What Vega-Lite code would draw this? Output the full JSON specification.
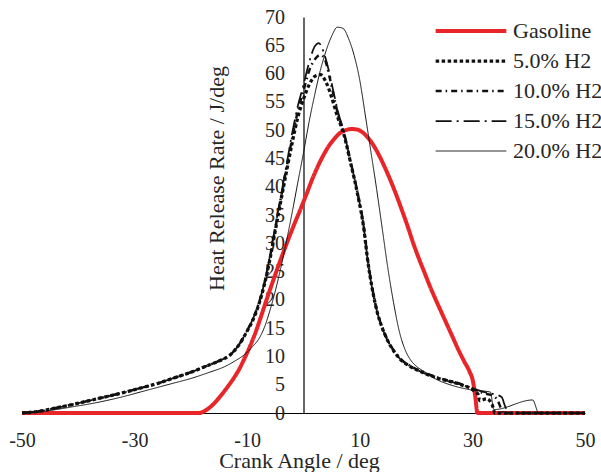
{
  "$schema": "https://vega.github.io/schema/vega-lite/v6.json",
  "width": 563,
  "height": 396,
  "autosize": {"type": "none"},
  "padding": {"left": 22, "top": 17, "right": 16, "bottom": 59},
  "background": "white",
  "config": {
    "view": {"stroke": null},
    "font": "Liberation Serif",
    "axis": {
      "grid": false,
      "ticks": false,
      "tickSize": 0,
      "labelFont": "Liberation Serif",
      "labelFontSize": 20,
      "labelColor": "#262626",
      "labelExpr": "'' + datum.value",
      "titleFont": "Liberation Serif",
      "titleFontSize": 22,
      "titleFontWeight": "normal",
      "titleColor": "#262626",
      "domainColor": "#000000",
      "domainWidth": 1.2
    }
  },
  "data": {
    "values": [
      {"fuel": "Gasoline", "ca": -50, "hrr": 0},
      {"fuel": "Gasoline", "ca": -18.5, "hrr": 0},
      {"fuel": "Gasoline", "ca": -17.5, "hrr": 0.4},
      {"fuel": "Gasoline", "ca": -16.5, "hrr": 1.1},
      {"fuel": "Gasoline", "ca": -15.5, "hrr": 2.1},
      {"fuel": "Gasoline", "ca": -14.5, "hrr": 3.3},
      {"fuel": "Gasoline", "ca": -13.5, "hrr": 4.6},
      {"fuel": "Gasoline", "ca": -12.5, "hrr": 6},
      {"fuel": "Gasoline", "ca": -11.5, "hrr": 7.6},
      {"fuel": "Gasoline", "ca": -10.5, "hrr": 9.6},
      {"fuel": "Gasoline", "ca": -9.5, "hrr": 11.8},
      {"fuel": "Gasoline", "ca": -8.5, "hrr": 14.3},
      {"fuel": "Gasoline", "ca": -7.5, "hrr": 17.2},
      {"fuel": "Gasoline", "ca": -6.5, "hrr": 20.2},
      {"fuel": "Gasoline", "ca": -5.5, "hrr": 23.1},
      {"fuel": "Gasoline", "ca": -4.5, "hrr": 25.9},
      {"fuel": "Gasoline", "ca": -3.5, "hrr": 28.6},
      {"fuel": "Gasoline", "ca": -2.5, "hrr": 31.2},
      {"fuel": "Gasoline", "ca": -1.5, "hrr": 33.7},
      {"fuel": "Gasoline", "ca": -0.5, "hrr": 36.1},
      {"fuel": "Gasoline", "ca": 0.5, "hrr": 38.6},
      {"fuel": "Gasoline", "ca": 1.5, "hrr": 41.2},
      {"fuel": "Gasoline", "ca": 2.5, "hrr": 43.5},
      {"fuel": "Gasoline", "ca": 3.5, "hrr": 45.5},
      {"fuel": "Gasoline", "ca": 4.5, "hrr": 47.2},
      {"fuel": "Gasoline", "ca": 5.5, "hrr": 48.5},
      {"fuel": "Gasoline", "ca": 6.5, "hrr": 49.5},
      {"fuel": "Gasoline", "ca": 7.5, "hrr": 50},
      {"fuel": "Gasoline", "ca": 8.5, "hrr": 50.2},
      {"fuel": "Gasoline", "ca": 9.5, "hrr": 50.1},
      {"fuel": "Gasoline", "ca": 10.5, "hrr": 49.6},
      {"fuel": "Gasoline", "ca": 11.5, "hrr": 48.6},
      {"fuel": "Gasoline", "ca": 12.5, "hrr": 47.2},
      {"fuel": "Gasoline", "ca": 13.5, "hrr": 45.4},
      {"fuel": "Gasoline", "ca": 14.5, "hrr": 43.3},
      {"fuel": "Gasoline", "ca": 15.5, "hrr": 41},
      {"fuel": "Gasoline", "ca": 16.5, "hrr": 38.5},
      {"fuel": "Gasoline", "ca": 17.5, "hrr": 35.8},
      {"fuel": "Gasoline", "ca": 18.5, "hrr": 33},
      {"fuel": "Gasoline", "ca": 19.5, "hrr": 30},
      {"fuel": "Gasoline", "ca": 20.5, "hrr": 27.3},
      {"fuel": "Gasoline", "ca": 21.5, "hrr": 24.8},
      {"fuel": "Gasoline", "ca": 22.5, "hrr": 22.3},
      {"fuel": "Gasoline", "ca": 23.5, "hrr": 20},
      {"fuel": "Gasoline", "ca": 24.5, "hrr": 17.8},
      {"fuel": "Gasoline", "ca": 25.5, "hrr": 15.6},
      {"fuel": "Gasoline", "ca": 26.5, "hrr": 13.4},
      {"fuel": "Gasoline", "ca": 27.5, "hrr": 11.2},
      {"fuel": "Gasoline", "ca": 28.5, "hrr": 9.2},
      {"fuel": "Gasoline", "ca": 29.5, "hrr": 7.3},
      {"fuel": "Gasoline", "ca": 30.1, "hrr": 5.6},
      {"fuel": "Gasoline", "ca": 30.5, "hrr": 3},
      {"fuel": "Gasoline", "ca": 30.9, "hrr": 0},
      {"fuel": "Gasoline", "ca": 50, "hrr": 0},

      {"fuel": "5.0% H2", "ca": -50, "hrr": 0},
      {"fuel": "5.0% H2", "ca": -47, "hrr": 0.3},
      {"fuel": "5.0% H2", "ca": -44, "hrr": 0.9},
      {"fuel": "5.0% H2", "ca": -41, "hrr": 1.5},
      {"fuel": "5.0% H2", "ca": -38, "hrr": 2.2},
      {"fuel": "5.0% H2", "ca": -35, "hrr": 2.9},
      {"fuel": "5.0% H2", "ca": -32, "hrr": 3.6},
      {"fuel": "5.0% H2", "ca": -29, "hrr": 4.4},
      {"fuel": "5.0% H2", "ca": -26, "hrr": 5.2},
      {"fuel": "5.0% H2", "ca": -23, "hrr": 6.2},
      {"fuel": "5.0% H2", "ca": -20, "hrr": 7.2},
      {"fuel": "5.0% H2", "ca": -17, "hrr": 8.4},
      {"fuel": "5.0% H2", "ca": -15, "hrr": 9.2},
      {"fuel": "5.0% H2", "ca": -13, "hrr": 10.3},
      {"fuel": "5.0% H2", "ca": -11.5, "hrr": 12},
      {"fuel": "5.0% H2", "ca": -10, "hrr": 14.5},
      {"fuel": "5.0% H2", "ca": -9, "hrr": 16.4},
      {"fuel": "5.0% H2", "ca": -8, "hrr": 19},
      {"fuel": "5.0% H2", "ca": -7, "hrr": 22.5},
      {"fuel": "5.0% H2", "ca": -6, "hrr": 27},
      {"fuel": "5.0% H2", "ca": -5, "hrr": 32.3},
      {"fuel": "5.0% H2", "ca": -4, "hrr": 37.6},
      {"fuel": "5.0% H2", "ca": -3, "hrr": 42.8},
      {"fuel": "5.0% H2", "ca": -2, "hrr": 47.8},
      {"fuel": "5.0% H2", "ca": -1, "hrr": 52.3},
      {"fuel": "5.0% H2", "ca": 0, "hrr": 55.5},
      {"fuel": "5.0% H2", "ca": 1, "hrr": 58},
      {"fuel": "5.0% H2", "ca": 2, "hrr": 59.5},
      {"fuel": "5.0% H2", "ca": 3, "hrr": 59.8},
      {"fuel": "5.0% H2", "ca": 4, "hrr": 58.5},
      {"fuel": "5.0% H2", "ca": 5, "hrr": 55.8},
      {"fuel": "5.0% H2", "ca": 6, "hrr": 52.5},
      {"fuel": "5.0% H2", "ca": 7.1, "hrr": 49.5},
      {"fuel": "5.0% H2", "ca": 8.3, "hrr": 44.5},
      {"fuel": "5.0% H2", "ca": 9.6, "hrr": 38.7},
      {"fuel": "5.0% H2", "ca": 10.7, "hrr": 32.7},
      {"fuel": "5.0% H2", "ca": 11.4, "hrr": 27},
      {"fuel": "5.0% H2", "ca": 12.2, "hrr": 22},
      {"fuel": "5.0% H2", "ca": 13.1, "hrr": 17.8},
      {"fuel": "5.0% H2", "ca": 14, "hrr": 15},
      {"fuel": "5.0% H2", "ca": 14.9, "hrr": 12.9},
      {"fuel": "5.0% H2", "ca": 16, "hrr": 11},
      {"fuel": "5.0% H2", "ca": 17.2, "hrr": 9.5},
      {"fuel": "5.0% H2", "ca": 19, "hrr": 8.2},
      {"fuel": "5.0% H2", "ca": 21.3, "hrr": 7.1},
      {"fuel": "5.0% H2", "ca": 24, "hrr": 6.1},
      {"fuel": "5.0% H2", "ca": 27.4, "hrr": 5.2},
      {"fuel": "5.0% H2", "ca": 30.2, "hrr": 4},
      {"fuel": "5.0% H2", "ca": 31, "hrr": 3.3},
      {"fuel": "5.0% H2", "ca": 31.3, "hrr": 2.2},
      {"fuel": "5.0% H2", "ca": 32.5, "hrr": 2.5},
      {"fuel": "5.0% H2", "ca": 33.5, "hrr": 1.5},
      {"fuel": "5.0% H2", "ca": 34, "hrr": 0},
      {"fuel": "5.0% H2", "ca": 50, "hrr": 0},

      {"fuel": "10.0% H2", "ca": -50, "hrr": 0},
      {"fuel": "10.0% H2", "ca": -47, "hrr": 0.3},
      {"fuel": "10.0% H2", "ca": -44, "hrr": 0.9},
      {"fuel": "10.0% H2", "ca": -41, "hrr": 1.5},
      {"fuel": "10.0% H2", "ca": -38, "hrr": 2.2},
      {"fuel": "10.0% H2", "ca": -35, "hrr": 2.9},
      {"fuel": "10.0% H2", "ca": -32, "hrr": 3.6},
      {"fuel": "10.0% H2", "ca": -29, "hrr": 4.4},
      {"fuel": "10.0% H2", "ca": -26, "hrr": 5.2},
      {"fuel": "10.0% H2", "ca": -23, "hrr": 6.2},
      {"fuel": "10.0% H2", "ca": -20, "hrr": 7.2},
      {"fuel": "10.0% H2", "ca": -17, "hrr": 8.4},
      {"fuel": "10.0% H2", "ca": -15, "hrr": 9.2},
      {"fuel": "10.0% H2", "ca": -13, "hrr": 10.3},
      {"fuel": "10.0% H2", "ca": -11.5, "hrr": 12},
      {"fuel": "10.0% H2", "ca": -10, "hrr": 14.6},
      {"fuel": "10.0% H2", "ca": -9, "hrr": 16.6},
      {"fuel": "10.0% H2", "ca": -8, "hrr": 19.2},
      {"fuel": "10.0% H2", "ca": -7, "hrr": 22.7},
      {"fuel": "10.0% H2", "ca": -6, "hrr": 27.3},
      {"fuel": "10.0% H2", "ca": -5, "hrr": 32.7},
      {"fuel": "10.0% H2", "ca": -4, "hrr": 38.1},
      {"fuel": "10.0% H2", "ca": -3, "hrr": 43.4},
      {"fuel": "10.0% H2", "ca": -2, "hrr": 48.6},
      {"fuel": "10.0% H2", "ca": -1, "hrr": 53.4},
      {"fuel": "10.0% H2", "ca": 0, "hrr": 57},
      {"fuel": "10.0% H2", "ca": 1, "hrr": 60.5},
      {"fuel": "10.0% H2", "ca": 2, "hrr": 62.5},
      {"fuel": "10.0% H2", "ca": 3, "hrr": 63.3},
      {"fuel": "10.0% H2", "ca": 3.8, "hrr": 62.5},
      {"fuel": "10.0% H2", "ca": 4.6, "hrr": 59.5},
      {"fuel": "10.0% H2", "ca": 5.5, "hrr": 55.5},
      {"fuel": "10.0% H2", "ca": 6.2, "hrr": 52.5},
      {"fuel": "10.0% H2", "ca": 7.1, "hrr": 49.8},
      {"fuel": "10.0% H2", "ca": 8.3, "hrr": 44.7},
      {"fuel": "10.0% H2", "ca": 9.6, "hrr": 38.9},
      {"fuel": "10.0% H2", "ca": 10.7, "hrr": 32.9},
      {"fuel": "10.0% H2", "ca": 11.4, "hrr": 27.2},
      {"fuel": "10.0% H2", "ca": 12.2, "hrr": 22.2},
      {"fuel": "10.0% H2", "ca": 13.1, "hrr": 17.9},
      {"fuel": "10.0% H2", "ca": 14, "hrr": 15.1},
      {"fuel": "10.0% H2", "ca": 14.9, "hrr": 13},
      {"fuel": "10.0% H2", "ca": 16, "hrr": 11.1},
      {"fuel": "10.0% H2", "ca": 17.2, "hrr": 9.6},
      {"fuel": "10.0% H2", "ca": 19, "hrr": 8.3},
      {"fuel": "10.0% H2", "ca": 21.3, "hrr": 7.2},
      {"fuel": "10.0% H2", "ca": 24, "hrr": 6.2},
      {"fuel": "10.0% H2", "ca": 27.4, "hrr": 5.3},
      {"fuel": "10.0% H2", "ca": 30.2, "hrr": 4.2},
      {"fuel": "10.0% H2", "ca": 32, "hrr": 3.5},
      {"fuel": "10.0% H2", "ca": 33.5, "hrr": 3.1},
      {"fuel": "10.0% H2", "ca": 34.5, "hrr": 2.2},
      {"fuel": "10.0% H2", "ca": 35, "hrr": 1},
      {"fuel": "10.0% H2", "ca": 35.5, "hrr": 0},
      {"fuel": "10.0% H2", "ca": 50, "hrr": 0},

      {"fuel": "15.0% H2", "ca": -50, "hrr": 0},
      {"fuel": "15.0% H2", "ca": -47, "hrr": 0.3},
      {"fuel": "15.0% H2", "ca": -44, "hrr": 0.9},
      {"fuel": "15.0% H2", "ca": -41, "hrr": 1.5},
      {"fuel": "15.0% H2", "ca": -38, "hrr": 2.2},
      {"fuel": "15.0% H2", "ca": -35, "hrr": 2.9},
      {"fuel": "15.0% H2", "ca": -32, "hrr": 3.6},
      {"fuel": "15.0% H2", "ca": -29, "hrr": 4.4},
      {"fuel": "15.0% H2", "ca": -26, "hrr": 5.2},
      {"fuel": "15.0% H2", "ca": -23, "hrr": 6.2},
      {"fuel": "15.0% H2", "ca": -20, "hrr": 7.2},
      {"fuel": "15.0% H2", "ca": -17, "hrr": 8.4},
      {"fuel": "15.0% H2", "ca": -15, "hrr": 9.2},
      {"fuel": "15.0% H2", "ca": -13, "hrr": 10.3},
      {"fuel": "15.0% H2", "ca": -11.5, "hrr": 12},
      {"fuel": "15.0% H2", "ca": -10, "hrr": 14.6},
      {"fuel": "15.0% H2", "ca": -9, "hrr": 16.6},
      {"fuel": "15.0% H2", "ca": -8, "hrr": 19.2},
      {"fuel": "15.0% H2", "ca": -7, "hrr": 22.8},
      {"fuel": "15.0% H2", "ca": -6, "hrr": 27.5},
      {"fuel": "15.0% H2", "ca": -5, "hrr": 33},
      {"fuel": "15.0% H2", "ca": -4, "hrr": 38.5},
      {"fuel": "15.0% H2", "ca": -3, "hrr": 44},
      {"fuel": "15.0% H2", "ca": -2, "hrr": 49.5},
      {"fuel": "15.0% H2", "ca": -1, "hrr": 54.3},
      {"fuel": "15.0% H2", "ca": 0, "hrr": 58},
      {"fuel": "15.0% H2", "ca": 1, "hrr": 62},
      {"fuel": "15.0% H2", "ca": 2, "hrr": 64.8},
      {"fuel": "15.0% H2", "ca": 2.7, "hrr": 65.4},
      {"fuel": "15.0% H2", "ca": 3.5, "hrr": 64},
      {"fuel": "15.0% H2", "ca": 4.5, "hrr": 60.5},
      {"fuel": "15.0% H2", "ca": 5.5, "hrr": 56},
      {"fuel": "15.0% H2", "ca": 6.2, "hrr": 53},
      {"fuel": "15.0% H2", "ca": 7.1, "hrr": 50},
      {"fuel": "15.0% H2", "ca": 8.3, "hrr": 44.7},
      {"fuel": "15.0% H2", "ca": 9.6, "hrr": 38.9},
      {"fuel": "15.0% H2", "ca": 10.7, "hrr": 32.9},
      {"fuel": "15.0% H2", "ca": 11.4, "hrr": 27},
      {"fuel": "15.0% H2", "ca": 12.2, "hrr": 22},
      {"fuel": "15.0% H2", "ca": 13.1, "hrr": 17.8},
      {"fuel": "15.0% H2", "ca": 14, "hrr": 15},
      {"fuel": "15.0% H2", "ca": 14.9, "hrr": 12.9},
      {"fuel": "15.0% H2", "ca": 16, "hrr": 11},
      {"fuel": "15.0% H2", "ca": 17.2, "hrr": 9.5},
      {"fuel": "15.0% H2", "ca": 19, "hrr": 8.2},
      {"fuel": "15.0% H2", "ca": 21.3, "hrr": 7.1},
      {"fuel": "15.0% H2", "ca": 24, "hrr": 6.1},
      {"fuel": "15.0% H2", "ca": 27.4, "hrr": 5.2},
      {"fuel": "15.0% H2", "ca": 30.2, "hrr": 4.3},
      {"fuel": "15.0% H2", "ca": 32.5, "hrr": 3.6},
      {"fuel": "15.0% H2", "ca": 34, "hrr": 3.3},
      {"fuel": "15.0% H2", "ca": 35.2, "hrr": 2.8},
      {"fuel": "15.0% H2", "ca": 35.8, "hrr": 1.2},
      {"fuel": "15.0% H2", "ca": 36.5, "hrr": 0},
      {"fuel": "15.0% H2", "ca": 50, "hrr": 0},

      {"fuel": "20.0% H2", "ca": -50, "hrr": 0},
      {"fuel": "20.0% H2", "ca": -47, "hrr": 0.2},
      {"fuel": "20.0% H2", "ca": -44, "hrr": 0.6},
      {"fuel": "20.0% H2", "ca": -41, "hrr": 1.1},
      {"fuel": "20.0% H2", "ca": -38, "hrr": 1.6},
      {"fuel": "20.0% H2", "ca": -35, "hrr": 2.2},
      {"fuel": "20.0% H2", "ca": -32, "hrr": 2.9},
      {"fuel": "20.0% H2", "ca": -29, "hrr": 3.7},
      {"fuel": "20.0% H2", "ca": -26, "hrr": 4.5},
      {"fuel": "20.0% H2", "ca": -23, "hrr": 5.3},
      {"fuel": "20.0% H2", "ca": -20, "hrr": 6.1},
      {"fuel": "20.0% H2", "ca": -17, "hrr": 7.1},
      {"fuel": "20.0% H2", "ca": -14, "hrr": 8.2},
      {"fuel": "20.0% H2", "ca": -12, "hrr": 9.3},
      {"fuel": "20.0% H2", "ca": -10.5, "hrr": 10.3},
      {"fuel": "20.0% H2", "ca": -9, "hrr": 11.8},
      {"fuel": "20.0% H2", "ca": -8, "hrr": 13},
      {"fuel": "20.0% H2", "ca": -7, "hrr": 15},
      {"fuel": "20.0% H2", "ca": -6, "hrr": 18},
      {"fuel": "20.0% H2", "ca": -5, "hrr": 21.6},
      {"fuel": "20.0% H2", "ca": -4, "hrr": 25.8},
      {"fuel": "20.0% H2", "ca": -3, "hrr": 30.5},
      {"fuel": "20.0% H2", "ca": -2, "hrr": 35.5},
      {"fuel": "20.0% H2", "ca": -1, "hrr": 40.8},
      {"fuel": "20.0% H2", "ca": 0, "hrr": 46},
      {"fuel": "20.0% H2", "ca": 1, "hrr": 51.5},
      {"fuel": "20.0% H2", "ca": 2, "hrr": 56.3},
      {"fuel": "20.0% H2", "ca": 3, "hrr": 60.6},
      {"fuel": "20.0% H2", "ca": 4, "hrr": 64},
      {"fuel": "20.0% H2", "ca": 5, "hrr": 66.6},
      {"fuel": "20.0% H2", "ca": 6, "hrr": 68.2},
      {"fuel": "20.0% H2", "ca": 7, "hrr": 68},
      {"fuel": "20.0% H2", "ca": 8, "hrr": 66.2},
      {"fuel": "20.0% H2", "ca": 9, "hrr": 63.2},
      {"fuel": "20.0% H2", "ca": 10, "hrr": 58.8},
      {"fuel": "20.0% H2", "ca": 11, "hrr": 52.5},
      {"fuel": "20.0% H2", "ca": 12, "hrr": 46},
      {"fuel": "20.0% H2", "ca": 13, "hrr": 39.5},
      {"fuel": "20.0% H2", "ca": 14, "hrr": 32.5},
      {"fuel": "20.0% H2", "ca": 15, "hrr": 25.5},
      {"fuel": "20.0% H2", "ca": 16, "hrr": 19.5},
      {"fuel": "20.0% H2", "ca": 17, "hrr": 14.5},
      {"fuel": "20.0% H2", "ca": 18, "hrr": 11.3},
      {"fuel": "20.0% H2", "ca": 19, "hrr": 9.4},
      {"fuel": "20.0% H2", "ca": 20, "hrr": 8.3},
      {"fuel": "20.0% H2", "ca": 21.5, "hrr": 7.3},
      {"fuel": "20.0% H2", "ca": 23.5, "hrr": 6},
      {"fuel": "20.0% H2", "ca": 26, "hrr": 5},
      {"fuel": "20.0% H2", "ca": 29.7, "hrr": 4.1},
      {"fuel": "20.0% H2", "ca": 33.2, "hrr": 3.7},
      {"fuel": "20.0% H2", "ca": 33.8, "hrr": 0.6},
      {"fuel": "20.0% H2", "ca": 40.7, "hrr": 2.3},
      {"fuel": "20.0% H2", "ca": 41.8, "hrr": 0},
      {"fuel": "20.0% H2", "ca": 50, "hrr": 0}
    ]
  },
  "encoding": {
    "x": {
      "field": "ca",
      "type": "quantitative",
      "scale": {"domain": [-50, 50], "nice": false, "zero": false},
      "axis": {
        "title": "Crank Angle / deg",
        "values": [-50, -30, -10, 10, 30, 50],
        "labelFlush": false,
        "labelPadding": 17,
        "titlePadding": 0,
        "titleX": 277
      }
    },
    "y": {
      "field": "hrr",
      "type": "quantitative",
      "scale": {"domain": [0, 70], "nice": false},
      "axis": {
        "title": "Heat Release Rate / J/deg",
        "values": [0, 5, 10, 15, 20, 25, 30, 35, 40, 45, 50, 55, 60, 65, 70],
        "offset": -281.5,
        "labelPadding": 19,
        "titlePadding": 36,
        "titleY": 161
      }
    },
    "color": {
      "field": "fuel",
      "type": "nominal",
      "scale": {
        "domain": ["Gasoline", "5.0% H2", "10.0% H2", "15.0% H2", "20.0% H2"],
        "range": ["#e8262a", "#111111", "#111111", "#111111", "#111111"]
      },
      "legend": {
        "orient": "none",
        "legendX": 438,
        "legendY": 3,
        "title": null,
        "symbolType": "M-5,0H5",
        "symbolSize": 200,
        "labelFont": "Liberation Serif",
        "labelFontSize": 22,
        "labelColor": "#262626",
        "labelOffset": 31,
        "rowPadding": 8,
        "padding": 0
      }
    },
    "strokeDash": {
      "field": "fuel",
      "type": "nominal",
      "scale": {
        "domain": ["Gasoline", "5.0% H2", "10.0% H2", "15.0% H2", "20.0% H2"],
        "range": [[1, 0], [3.5, 2.5], [6, 4, 1.5, 4], [16, 5, 2, 5], [1, 0]]
      }
    },
    "strokeWidth": {
      "field": "fuel",
      "type": "ordinal",
      "scale": {
        "domain": ["Gasoline", "5.0% H2", "10.0% H2", "15.0% H2", "20.0% H2"],
        "range": [4, 1, 1, 1, 1.2]
      }
    }
  },
  "layer": [
    {
      "transform": [{"filter": "datum.fuel === 'Gasoline'"}],
      "mark": {"type": "line", "interpolate": "monotone"}
    },
    {
      "transform": [{"filter": "datum.fuel !== 'Gasoline'"}],
      "mark": {"type": "line", "interpolate": "monotone"}
    }
  ]
}
